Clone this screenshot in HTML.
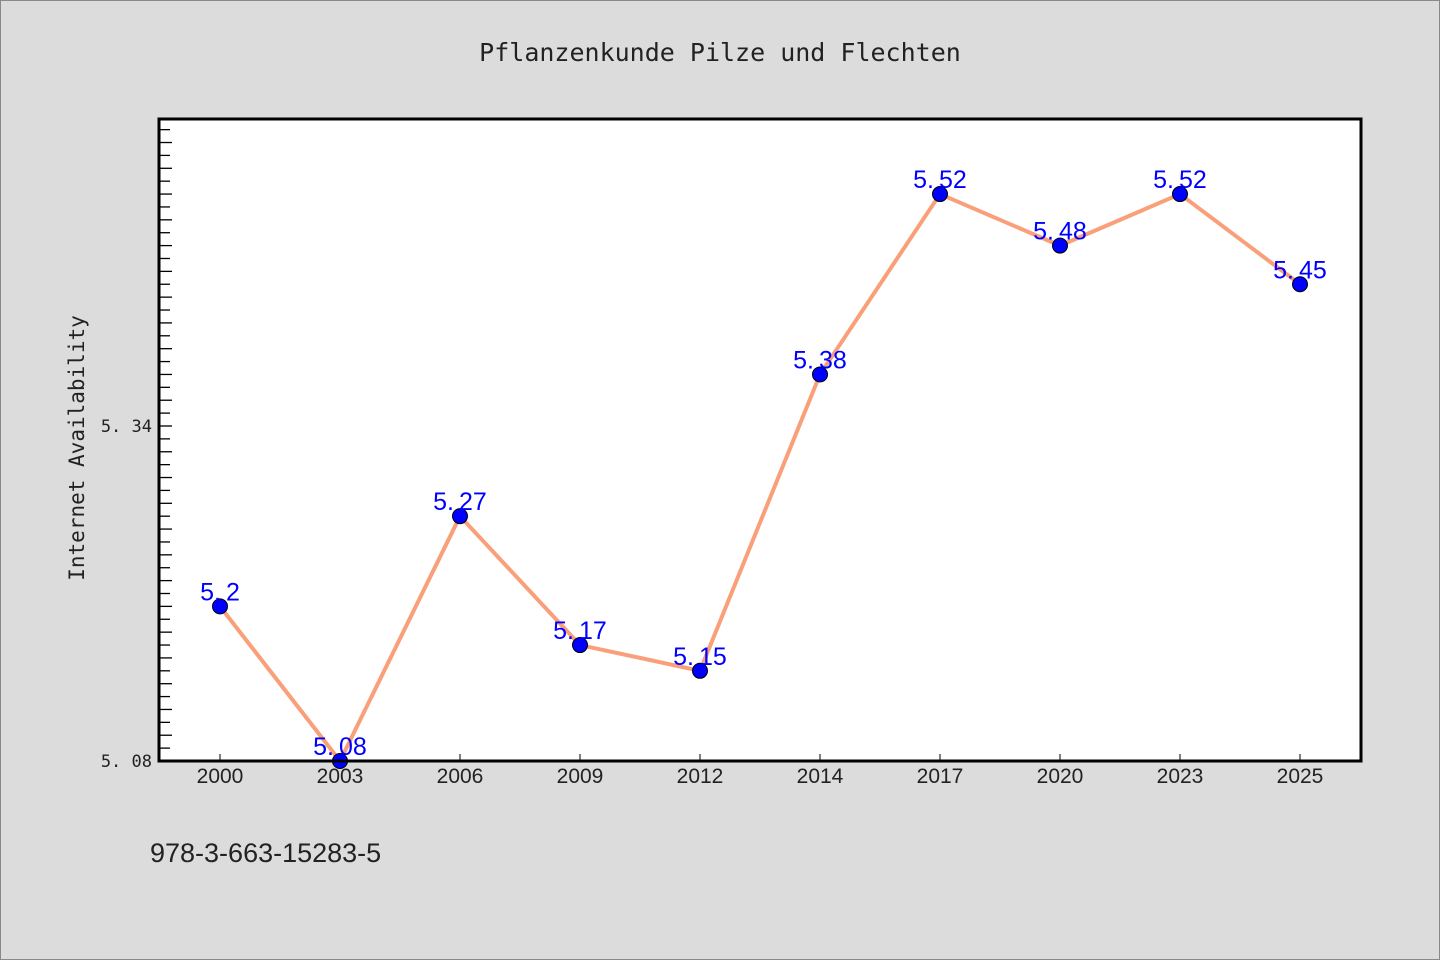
<!DOCTYPE html>
<html><head><meta charset="utf-8"><style>
body{margin:0;background:#dcdcdc;}
svg{display:block;font-family:"Liberation Sans","Noto Sans CJK SC",sans-serif;}
</style></head><body>
<svg id="chart" width="1440" height="960">
<rect x="0.5" y="0.5" width="1439" height="959" fill="#dcdcdc" stroke="#888"/>
<text x="720" y="61" text-anchor="middle" font-size="25" fill="#222" font-family="DejaVu Sans Mono,monospace">Pflanzenkunde Pilze und Flechten</text>
<rect x="159" y="119" width="1202" height="642" fill="#fff"/>
<g id="ticks"></g>
<g id="series"></g>
<rect x="159" y="119" width="1202" height="642" fill="none" stroke="#000" stroke-width="3"/>
<text transform="translate(84,448) rotate(-90)" text-anchor="middle" font-size="21" fill="#222" font-family="DejaVu Sans Mono,monospace">Internet Availability</text>
<text x="150" y="862" font-size="27" fill="#222">978-3-663-15283-5</text>
</svg>
<script>
const categories=["2000","2003","2006","2009","2012","2014","2017","2020","2023","2025"];
const values=[5.2,5.08,5.27,5.17,5.15,5.38,5.52,5.48,5.52,5.45];
const yTickValues=[5.08,5.34];
const yTickLabels=["5.08","5.34"];
const NS="http://www.w3.org/2000/svg";
const x0=220,dx=120,yMin=5.08,yBase=761,pxPerUnit=1288.5;
function xs(i){return x0+i*dx;}
function ys(v){return yBase-(v-yMin)*pxPerUnit;}
function mk(tag,attrs,parent){const e=document.createElementNS(NS,tag);for(const k in attrs)e.setAttribute(k,attrs[k]);parent.appendChild(e);return e;}
const tg=document.getElementById('ticks'),sg=document.getElementById('series');
for(let k=0;;k++){const v=yMin+k*0.01;const y=ys(v);if(y<121)break;
 const t=mk('line',{x1:159,x2:159+(k%2?11:13),y1:y,y2:y,stroke:'#000','stroke-width':1.3},tg);
 
 }
yTickValues.forEach((v,i)=>{const t=mk('text',{x:152,y:ys(v)+6,'text-anchor':'end','font-size':17,fill:'#222','font-family':'DejaVu Sans Mono,monospace'},tg);t.textContent=yTickLabels[i].replace('.','. ');
 
 });
categories.forEach((c,i)=>{const l=mk('line',{x1:xs(i),x2:xs(i),y1:761,y2:754,stroke:'#000','stroke-width':1},tg);
 
 
 const t=mk('text',{x:xs(i),y:783,'text-anchor':'middle','font-size':21,fill:'#222'},tg);t.textContent=c;
 
 });
const pl=mk('polyline',{points:values.map((v,i)=>xs(i)+','+ys(v)).join(' '),fill:'none',stroke:'#f9a07a','stroke-width':4,'stroke-linejoin':'round'},sg);


values.forEach((v,i)=>{const c=mk('circle',{cx:xs(i),cy:ys(v),r:7.5,fill:'#0000ff',stroke:'#000','stroke-width':1},sg);
 
 
 const t=mk('text',{x:xs(i),y:ys(v)-6,'text-anchor':'middle','font-size':25,fill:'#0000ff'},sg);t.textContent=String(v).replace('.','.\u2009');
 
 });
</script>
</body></html>
